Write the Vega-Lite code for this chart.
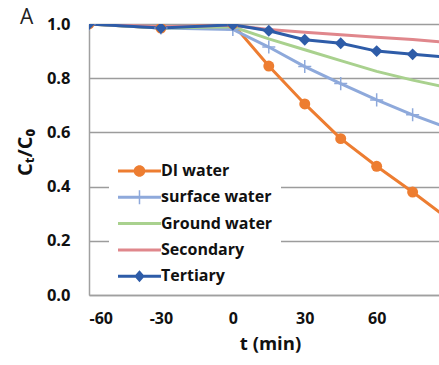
{
  "$schema": "https://vega.github.io/schema/vega-lite/v6.json",
  "width": 350,
  "height": 271,
  "autosize": {"type": "none"},
  "padding": {"left": 89, "top": 24, "right": 0, "bottom": 70},
  "background": "white",
  "title": {"text": "A", "anchor": "start", "frame": "group", "orient": "top", "font": "Open Sans", "fontSize": 21, "fontWeight": "normal", "color": "#222222", "dx": -69, "dy": 12, "offset": 0},
  "config": {
    "view": {"stroke": null},
    "axis": {"labelFont": "Open Sans", "labelFontWeight": "bold", "labelColor": "#111111", "titleFont": "Open Sans", "titleColor": "#111111", "domainColor": "#a0a0a0", "domainWidth": 1.5, "ticks": false},
    "legend": {"title": null, "orient": "none", "legendX": 20, "legendY": 131, "fillColor": "white", "padding": 8,
      "symbolSize": 196, "symbolStrokeWidth": 0, "symbolOpacity": 1, "labelOffset": 28, "rowPadding": 10.3,
      "labelFont": "Open Sans", "labelFontWeight": "bold", "labelFontSize": 16, "labelColor": "#111111"}
  },
  "data": {"values": [
    {"series": "DI water", "t": -60, "v": 1.0},
    {"series": "DI water", "t": -30, "v": 0.985},
    {"series": "DI water", "t": 0, "v": 1.0},
    {"series": "DI water", "t": 15, "v": 0.845},
    {"series": "DI water", "t": 30, "v": 0.705},
    {"series": "DI water", "t": 45, "v": 0.577},
    {"series": "DI water", "t": 60, "v": 0.475},
    {"series": "DI water", "t": 75, "v": 0.38},
    {"series": "DI water", "t": 90, "v": 0.28},
    {"series": "surface water", "t": -60, "v": 1.0},
    {"series": "surface water", "t": -30, "v": 0.985},
    {"series": "surface water", "t": 0, "v": 0.98},
    {"series": "surface water", "t": 15, "v": 0.915},
    {"series": "surface water", "t": 30, "v": 0.843},
    {"series": "surface water", "t": 45, "v": 0.78},
    {"series": "surface water", "t": 60, "v": 0.72},
    {"series": "surface water", "t": 75, "v": 0.665},
    {"series": "surface water", "t": 90, "v": 0.615},
    {"series": "Ground water", "t": -60, "v": 1.0},
    {"series": "Ground water", "t": -30, "v": 0.985},
    {"series": "Ground water", "t": 0, "v": 0.99},
    {"series": "Ground water", "t": 15, "v": 0.945},
    {"series": "Ground water", "t": 30, "v": 0.905},
    {"series": "Ground water", "t": 45, "v": 0.865},
    {"series": "Ground water", "t": 60, "v": 0.825},
    {"series": "Ground water", "t": 75, "v": 0.793},
    {"series": "Ground water", "t": 90, "v": 0.765},
    {"series": "Secondary", "t": -60, "v": 1.0},
    {"series": "Secondary", "t": -30, "v": 0.99},
    {"series": "Secondary", "t": 0, "v": 0.995},
    {"series": "Secondary", "t": 15, "v": 0.98},
    {"series": "Secondary", "t": 30, "v": 0.97},
    {"series": "Secondary", "t": 45, "v": 0.96},
    {"series": "Secondary", "t": 60, "v": 0.951},
    {"series": "Secondary", "t": 75, "v": 0.943},
    {"series": "Secondary", "t": 90, "v": 0.932},
    {"series": "Tertiary", "t": -60, "v": 1.0},
    {"series": "Tertiary", "t": -30, "v": 0.985},
    {"series": "Tertiary", "t": 0, "v": 0.997},
    {"series": "Tertiary", "t": 15, "v": 0.975},
    {"series": "Tertiary", "t": 30, "v": 0.942},
    {"series": "Tertiary", "t": 45, "v": 0.929},
    {"series": "Tertiary", "t": 60, "v": 0.9},
    {"series": "Tertiary", "t": 75, "v": 0.888},
    {"series": "Tertiary", "t": 90, "v": 0.877}
  ]},
  "encoding": {
    "x": {"field": "t", "type": "quantitative",
      "scale": {"domain": [-60, 86], "nice": false, "zero": false},
      "axis": {"values": [-60, -30, 0, 30, 60, 90], "grid": false, "labelFontSize": 16, "labelPadding": 15, "labelExpr": "replace(datum.label, '−', '-')", "title": "t (min)", "titleFontSize": 18.5, "titleFontWeight": "bold", "titlePadding": 8, "titleX": 181}},
    "y": {"field": "v", "type": "quantitative",
      "scale": {"domain": [0, 1], "nice": false},
      "axis": {"values": [0, 0.2, 0.4, 0.6, 0.8, 1.0], "format": ".1f", "grid": true, "gridColor": "#9c9c9c", "gridWidth": 1.5, "labelFontSize": 16.5, "labelPadding": 19, "title": "Cₜ/C₀", "titleFontSize": 20, "titleFontWeight": "bold", "titleX": -54, "titleY": 128}},
    "color": {"field": "series", "type": "nominal",
      "scale": {"domain": ["DI water", "surface water", "Ground water", "Secondary", "Tertiary"], "range": ["#ED7D31", "#8EA9DB", "#A9D18E", "#E0878C", "#2E5CA8"]}}
  },
  "layer": [
    {"transform": [{"filter": "datum.t === 0"}],
     "mark": {"type": "point", "filled": true, "opacity": 0, "clip": true},
     "encoding": {
       "color": {"field": "series", "type": "nominal", "legend": {"title": null}},
       "shape": {"field": "series", "type": "nominal",
         "scale": {"domain": ["DI water", "surface water", "Ground water", "Secondary", "Tertiary"],
           "range": [
             "M-1,-0.214H5.143V0.214H-1Z M2.9,0A0.83,0.83 0 1,1 1.24,0A0.83,0.83 0 1,1 2.9,0Z",
             "M-1,-0.214H5.143V0.214H-1Z M1.963,-1H2.177V1H1.963Z",
             "M-1,-0.214H5.143V0.214H-1Z",
             "M-1,-0.214H5.143V0.214H-1Z",
             "M-1,-0.214H5.143V0.214H-1Z M2.07,-0.85L2.82,0L2.07,0.85L1.32,0Z"
           ]},
         "legend": {"title": null}}
     }},
    {"mark": {"type": "line", "strokeWidth": 3, "clip": true}},
    {"transform": [{"filter": "datum.series === 'DI water'"}],
     "mark": {"type": "point", "shape": "circle", "filled": true, "opacity": 1, "size": 120, "clip": true}},
    {"transform": [{"filter": "datum.series === 'surface water'"}],
     "mark": {"type": "point", "shape": "M0,-1V1M-1,0H1", "filled": false, "opacity": 1, "strokeWidth": 1.5, "size": 170, "clip": true}},
    {"transform": [{"filter": "datum.series === 'Tertiary'"}],
     "mark": {"type": "point", "shape": "diamond", "filled": true, "opacity": 1, "size": 140, "clip": true}}
  ]
}
